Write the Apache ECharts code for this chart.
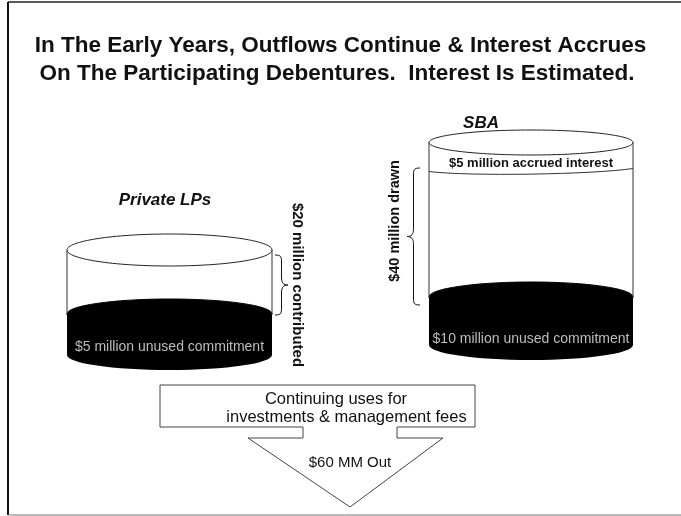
<!DOCTYPE html>
<html>
<head>
<meta charset="utf-8">
<script src="https://cdn.jsdelivr.net/npm/echarts@6/dist/echarts.min.js"></script>
<style>html,body{margin:0;padding:0;background:#fff}#c{width:681px;height:516px}</style>
</head>
<body>
<div id="c"></div>
<script>
// ---- data ----
var titleLines = ['In The Early Years, Outflows Continue & Interest Accrues', 'On The Participating Debentures.  Interest Is Estimated.'];
var groups = ['Private LPs', 'SBA'];
var drawnValues = [20, 40];          // $ millions contributed / drawn
var drawnWords = ['contributed', 'drawn'];
var unusedValues = [5, 10];          // $ millions unused commitment
var accruedInterest = [null, 5];     // $ millions accrued interest
var outflowTotal = 60;               // $ MM out
var boxLines = ['Continuing uses for', 'investments & management fees'];

// ---- layout (pixels) ----
var cyl = [
  {cx: 169.5, rx: 102.5, topCy: 250, topRy: 16, blackCy: 314, bottomCy: 355, bRy: 15, label: [165, 200], unusedY: 347},
  {cx: 531, rx: 102, topCy: 142.5, topRy: 12.5, blackCy: 297, bottomCy: 345, bRy: 15, label: [481, 123], unusedY: 339}
];
var FONT = '"Liberation Sans", Arial, sans-serif';
var els = [];
function line(x1, y1, x2, y2, col, w) {
  els.push({type: 'line', shape: {x1: x1, y1: y1, x2: x2, y2: y2}, style: {stroke: col || '#111', lineWidth: w || 1}, silent: true, z: 5});
}
function bez(x1, y1, c1x, c1y, c2x, c2y, x2, y2, col, w) {
  els.push({type: 'bezierCurve', shape: {x1: x1, y1: y1, cpx1: c1x, cpy1: c1y, cpx2: c2x, cpy2: c2y, x2: x2, y2: y2},
    style: {stroke: col || '#111', lineWidth: w || 1, fill: null}, silent: true, z: 5});
}
function text(x, y, t, opt) {
  opt = opt || {};
  els.push({type: 'text', x: x, y: y, rotation: opt.rot || 0,
    style: {text: t, x: 0, y: 0, fill: opt.fill || '#111', font: (opt.style || 'normal') + ' ' + (opt.weight || 'normal') + ' ' + (opt.size || 14) + 'px ' + FONT,
      align: opt.align || 'center', verticalAlign: 'middle'}, silent: true, z: 10});
}
// vertical curly brace: x0 = open side, tip at xt, from y1 to y2
function brace(x0, xt, y1, y2) {
  var xm = (x0 + xt) / 2, ym = (y1 + y2) / 2, s = xt > x0 ? 1 : -1;
  var r = 8;
  bez(x0, y1, xm, y1, xm, y1 + 2, xm, y1 + r);
  line(xm, y1 + r, xm, ym - r);
  bez(xm, ym - r, xm, ym - 2, xm + s * 2, ym, xt, ym);
  bez(xt, ym, xm + s * 2, ym, xm, ym + 2, xm, ym + r);
  line(xm, ym + r, xm, y2 - r);
  bez(xm, y2 - r, xm, y2 - 2, xm, y2, x0, y2);
}

// border
line(8, 2, 681, 2, '#222', 1.5);
line(8, 2, 8, 515, '#111', 2);
line(8, 515, 681, 515, '#777', 1);

// title
text(340.5, 46, titleLines[0], {weight: 'bold', size: 22.5});
text(337, 74, titleLines[1], {weight: 'bold', size: 22.5});

cyl.forEach(function (c, i) {
  var L = c.cx - c.rx, R = c.cx + c.rx;
  // black liquid
  els.push({type: 'ellipse', shape: {cx: c.cx, cy: c.bottomCy, rx: c.rx, ry: c.bRy}, style: {fill: '#000'}, silent: true});
  els.push({type: 'rect', shape: {x: L, y: c.blackCy, width: 2 * c.rx, height: c.bottomCy - c.blackCy}, style: {fill: '#000'}, silent: true});
  els.push({type: 'ellipse', shape: {cx: c.cx, cy: c.blackCy, rx: c.rx, ry: c.bRy}, style: {fill: '#000', stroke: '#000'}, silent: true});
  // sides
  line(L, c.topCy, L, c.blackCy, '#333', 1);
  line(R, c.topCy, R, c.blackCy, '#333', 1);
  // top ellipse
  els.push({type: 'ellipse', shape: {cx: c.cx, cy: c.topCy, rx: c.rx, ry: c.topRy}, style: {fill: '#fff', stroke: '#222', lineWidth: 1}, silent: true, z: 4});
  // group label
  text(c.label[0], c.label[1], groups[i], {weight: 'bold', style: 'italic', size: 17});
  // unused commitment label
  text(c.cx, c.unusedY, '$' + unusedValues[i] + ' million unused commitment', {fill: '#bdbdbd', size: 14});
  // accrued interest band
  if (accruedInterest[i] != null) {
    bez(L, c.topCy + 29, L + 40, c.topCy + 34, R - 40, c.topCy + 32, R, c.topCy + 26, '#333', 1);
    text(c.cx, c.topCy + 20.5, '$' + accruedInterest[i] + ' million accrued interest', {weight: 'bold', size: 13});
  }
});

// brace for Private LPs (right side, tip to right)
brace(275, 288, 255, 315);
text(297, 285, '$' + drawnValues[0] + ' million ' + drawnWords[0], {weight: 'bold', size: 15, rot: -Math.PI / 2});
// brace for SBA (left side, tip to left)
brace(420, 407, 168, 305);
text(395, 221, '$' + drawnValues[1] + ' million ' + drawnWords[1], {weight: 'bold', size: 14.5, rot: Math.PI / 2});

// outflow box + arrow
els.push({type: 'polygon', shape: {points: [[160, 385], [475, 385], [475, 427], [397, 427], [397, 438], [443, 438], [350, 507], [248, 438], [303, 438], [303, 427], [160, 427]]},
  style: {stroke: '#444', lineWidth: 1, fill: '#fff'}, silent: true, z: 3});
text(336, 399, boxLines[0], {size: 16.5});
text(346.5, 417, boxLines[1], {size: 16.5});
text(350, 463, '$' + outflowTotal + ' MM Out', {size: 15});

var chart = echarts.init(document.getElementById('c'), null, {renderer: 'canvas'});
chart.setOption({animation: false, backgroundColor: '#fff', graphic: {elements: els}});
</script>
</body>
</html>
